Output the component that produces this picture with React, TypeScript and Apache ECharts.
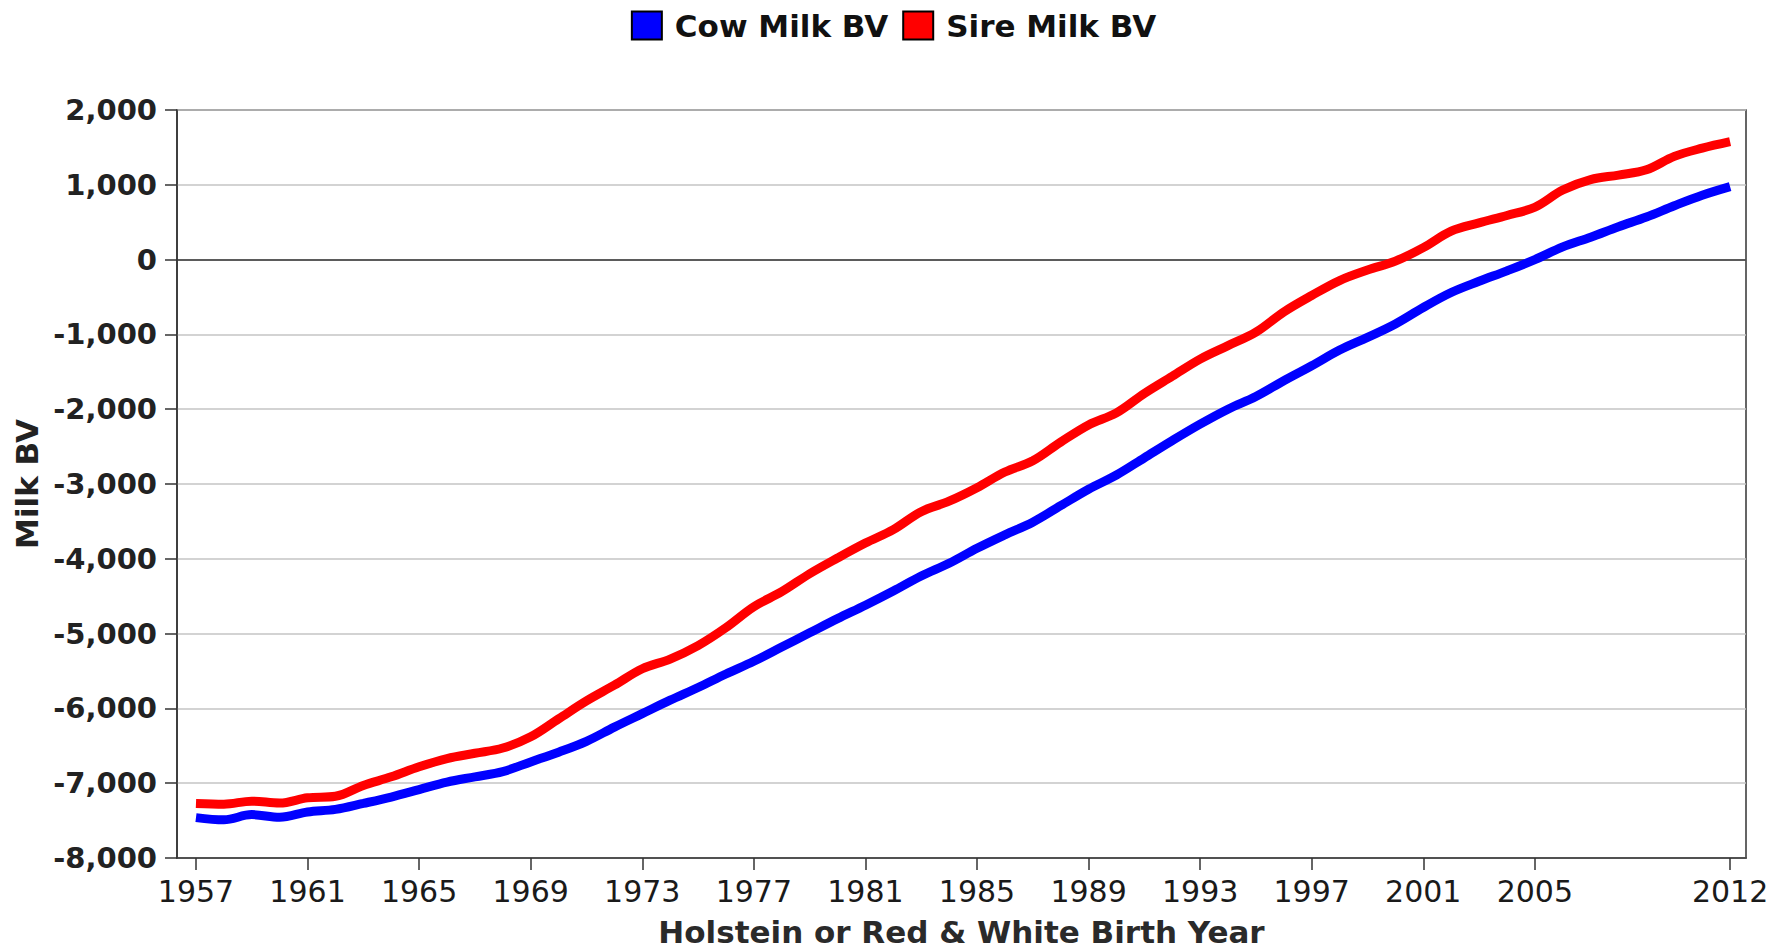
import React, { useEffect, useRef } from "react";
import * as echarts from "echarts";

const years: number[] = [];
for (let y = 1957; y <= 2012; y++) years.push(y);

const cowMilkBV = [
  -7460, -7490, -7420, -7455, -7385, -7350, -7270, -7185, -7085, -6985,
  -6915, -6845, -6715, -6585, -6440, -6250, -6070, -5890, -5720, -5540,
  -5370, -5180, -4990, -4800, -4620, -4430, -4230, -4060, -3860, -3680,
  -3510, -3290, -3070, -2880, -2650, -2420, -2200, -2000, -1830, -1620,
  -1420, -1210, -1040, -860, -640, -440, -290, -150, 0, 170,
  300, 440, 570, 720, 860, 975,
];

const sireMilkBV = [
  -7270, -7280, -7240, -7265, -7195, -7175, -7030, -6915, -6780, -6670,
  -6600, -6530, -6380, -6140, -5900, -5690, -5470, -5340, -5160, -4920,
  -4640, -4440, -4200, -3990, -3790, -3610, -3370, -3230, -3050, -2840,
  -2690, -2440, -2210, -2050, -1790, -1560, -1330, -1150, -970, -700,
  -480, -280, -140, -20, 160, 380, 490, 590, 700, 930,
  1070, 1130, 1200, 1380, 1490, 1577,
];

const xTickYears = [1957, 1961, 1965, 1969, 1973, 1977, 1981, 1985, 1989, 1993, 1997, 2001, 2005, 2012];

const seriesNames = ["Cow Milk BV", "Sire Milk BV"];
const seriesColors = ["#0000ff", "#ff0000"];

const FONT = "DejaVu Sans";

export default function App() {
  const ref = useRef<HTMLDivElement>(null);

  useEffect(() => {
    document.body.style.margin = "0";
    if (!ref.current) return;
    const chart = echarts.init(ref.current, undefined, { renderer: "svg" });
    const cowData = years.map((y, i) => [y, cowMilkBV[i]]);
    const sireData = years.map((y, i) => [y, sireMilkBV[i]]);

    chart.setOption({
      animation: false,
      backgroundColor: "#ffffff",
      legend: {
        top: 5,
        left: "center",
        icon: "rect",
        itemWidth: 30,
        itemHeight: 28,
        itemGap: 14,
        textStyle: {
          fontFamily: FONT,
          fontSize: 31,
          fontWeight: "bold",
          color: "#111",
          padding: [0, 0, 0, 8],
        },
        data: seriesNames.map((n, i) => ({
          name: n,
          itemStyle: { color: seriesColors[i], borderColor: "#000", borderWidth: 2 },
        })),
      },
      grid: {
        left: 177,
        right: 41,
        top: 110,
        bottom: 94,
        show: true,
        borderColor: "#333",
        borderWidth: 1.5,
        backgroundColor: "transparent",
      },
      xAxis: {
        type: "value",
        min: 1956.32,
        max: 2012.57,
        name: "Holstein or Red & White Birth Year",
        nameLocation: "middle",
        nameGap: 58,
        nameTextStyle: {
          fontFamily: FONT,
          fontSize: 31,
          fontWeight: "bold",
          color: "#2a2a2a",
        },
        axisLine: { show: true, onZero: false, lineStyle: { color: "#333", width: 1.5 } },
        axisTick: {
          show: true,
          length: 12,
          customValues: xTickYears,
          lineStyle: { color: "#333", width: 1.5 },
        },
        axisLabel: {
          customValues: xTickYears,
          formatter: (v: number) => String(v),
          fontFamily: FONT,
          fontSize: 30,
          color: "#1a1a1a",
          margin: 18,
        },
        splitLine: { show: false },
      },
      yAxis: {
        type: "value",
        min: -8000,
        max: 2000,
        interval: 1000,
        name: "Milk BV",
        nameLocation: "middle",
        nameGap: 123,
        nameRotate: 90,
        nameTextStyle: {
          fontFamily: FONT,
          fontSize: 31,
          fontWeight: "bold",
          color: "#222",
        },
        axisLine: { show: true, onZero: false, lineStyle: { color: "#333", width: 1.5 } },
        axisTick: { show: true, length: 12, lineStyle: { color: "#333", width: 1.5 } },
        axisLabel: {
          formatter: (v: number) => v.toLocaleString("en-US"),
          fontFamily: FONT,
          fontSize: 29,
          fontWeight: "bold",
          color: "#222",
          margin: 20,
        },
        splitLine: { show: true, lineStyle: { color: "#c4c4c4", width: 1.5 } },
      },
      series: [
        {
          name: seriesNames[0],
          type: "line",
          data: cowData,
          symbol: "none",
          smooth: 0.35,
          lineStyle: { color: seriesColors[0], width: 9 },
          itemStyle: { color: seriesColors[0] },
          z: 3,
          markLine: {
            silent: true,
            symbol: "none",
            label: { show: false },
            lineStyle: { color: "#333", width: 1.5, type: "solid" },
            data: [{ yAxis: 0 }],
            z: 1,
          },
        },
        {
          name: seriesNames[1],
          type: "line",
          data: sireData,
          symbol: "none",
          smooth: 0.35,
          lineStyle: { color: seriesColors[1], width: 9 },
          itemStyle: { color: seriesColors[1] },
          z: 4,
        },
      ],
    });

    return () => chart.dispose();
  }, []);

  return <div ref={ref} style={{ width: 1787, height: 952 }} />;
}
